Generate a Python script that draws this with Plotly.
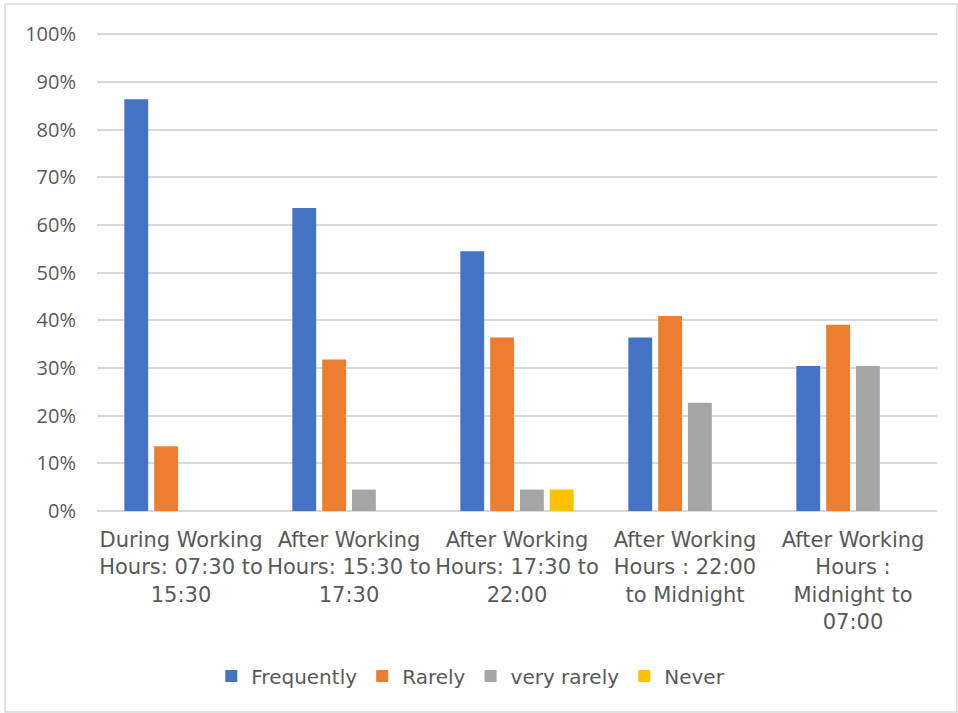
import plotly.graph_objects as go

categories = [
    "During Working<br>Hours: 07:30 to<br>15:30",
    "After Working<br>Hours: 15:30 to<br>17:30",
    "After Working<br>Hours: 17:30 to<br>22:00",
    "After Working<br>Hours : 22:00<br>to Midnight",
    "After Working<br>Hours :<br>Midnight to<br>07:00",
]
frequently = [0.864, 0.636, 0.545, 0.364, 0.304]
rarely = [0.136, 0.318, 0.364, 0.409, 0.391]
very_rarely = [0.0, 0.045, 0.045, 0.227, 0.304]
never = [0.0, 0.0, 0.045, 0.0, 0.0]
y_ticks = [i / 10 for i in range(11)]

series = [
    ("Frequently", frequently, "#4472C4"),
    ("Rarely", rarely, "#ED7D31"),
    ("very rarely", very_rarely, "#A5A5A5"),
    ("Never", never, "#FFC000"),
]

fig = go.Figure()
for name, vals, color in series:
    fig.add_trace(go.Bar(
        name=name, x=categories, y=vals,
        marker=dict(color=color, line=dict(width=0)),
    ))

label_font = dict(family="DejaVu Sans", size=21, color="#595959")

fig.update_layout(
    width=958, height=713,
    margin=dict(l=97, r=21, t=33, b=202),
    paper_bgcolor="white", plot_bgcolor="white",
    barmode="group", bargap=0.29, bargroupgap=0.2,
    font=label_font,
    xaxis=dict(
        tickfont=label_font, showgrid=False, showline=False,
        ticks="", ticklabelstandoff=14,
    ),
    yaxis=dict(
        range=[0, 1.003], tickvals=y_ticks, tickformat=".0%",
        tickfont=dict(family="Open Sans", size=20, color="#595959"),
        showgrid=True, gridcolor="#D9D9D9", gridwidth=1.5,
        zeroline=True, zerolinecolor="#D9D9D9", zerolinewidth=1.5,
        showline=False, ticks="", ticklabelstandoff=20,
    ),
    legend=dict(
        orientation="h", x=0.445, xanchor="center", y=-0.345, yanchor="middle",
        font=dict(family="DejaVu Sans", size=20, color="#595959"),
        itemwidth=30, itemsizing="constant",
        traceorder="normal", tracegroupgap=0,
    ),
    shapes=[dict(
        type="rect", xref="paper", yref="paper",
        x0=-0.1095, x1=1.0238, y0=-0.4205, y1=1.0607,
        line=dict(color="#D9D9D9", width=1.5), fillcolor="rgba(0,0,0,0)",
        layer="below",
    )],
)

fig.write_html("out.html")
